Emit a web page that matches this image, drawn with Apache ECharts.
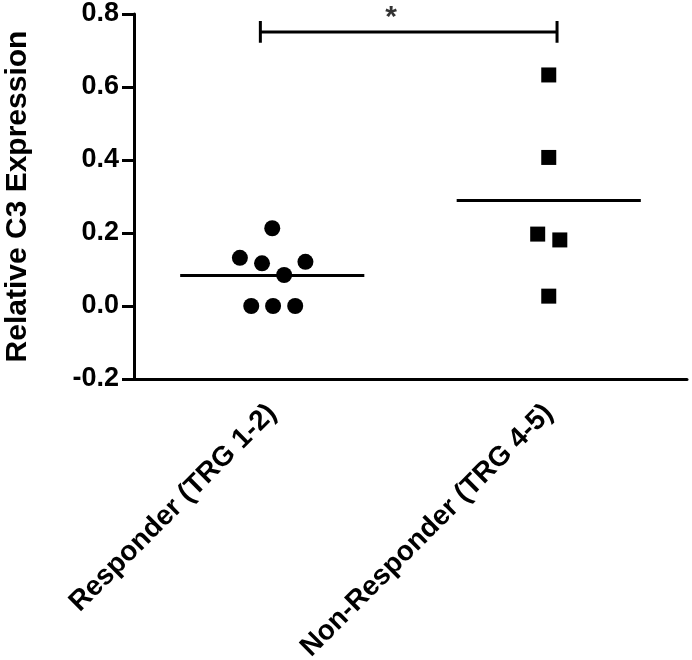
<!DOCTYPE html>
<html>
<head>
<meta charset="utf-8">
<script src="https://cdn.jsdelivr.net/npm/echarts@6/dist/echarts.min.js"></script>
<style>html,body{margin:0;padding:0;background:#fff;}#c{width:692px;height:660px;}</style>
</head>
<body>
<div id="c"></div>
<script>
var categories = ['Responder (TRG 1-2)', 'Non-Responder (TRG 4-5)'];
var yTicks = [-0.2, 0.0, 0.2, 0.4, 0.6, 0.8];
// Responder values and horizontal jitter (category units)
var responderValues = [0.213, 0.132, 0.117, 0.121, 0.085, 0.0, 0.0, 0.0];
var responderJitter = [0.0, -0.117, -0.037, 0.12, 0.043, -0.076, 0.003, 0.083];
// Non-responder values and jitter
var nonResponderValues = [0.633, 0.407, 0.197, 0.181, 0.027];
var nonResponderJitter = [0.0, 0.0, -0.04, 0.04, 0.0];
var meanHalfWidth = 0.333;
var bracketX = [-0.043, 1.03];
var bracketY = 0.751;
var bracketTick = 0.03;
var starPos = [0.43, 0.79];
var sigLabel = '*';

function mean(a){ return a.reduce(function(s,v){return s+v;},0)/a.length; }
function pts(cat, vals, jit){ return vals.map(function(v,i){ return [cat + jit[i], v]; }); }
var mR = mean(responderValues), mN = mean(nonResponderValues);

var chart = echarts.init(document.getElementById('c'));
var fontFam = '"Liberation Sans", Arial, sans-serif';
var lineStyleBlack = {color:'#000', width:3};
chart.setOption({
  animation:false,
  grid:{left:134, right:5, top:14, bottom:281, containLabel:false, outerBoundsMode:'none'},
  xAxis:[{
    type:'category', data:categories, boundaryGap:true,
    axisLine:{onZero:false, lineStyle:{color:'#000', width:3}},
    axisTick:{alignWithLabel:true, length:12, lineStyle:{color:'#000', width:3}},
    axisLabel:{rotate:45, color:'#000', fontFamily:fontFam, fontWeight:'bold', fontSize:28, margin:30},
    splitLine:{show:false}
  },{
    type:'value', min:-0.5, max:1.5, show:false
  }],
  yAxis:{
    type:'value', min:-0.2, max:0.8, interval:0.2,
    name:'Relative C3 Expression', nameLocation:'middle', nameGap:101,
    nameTextStyle:{color:'#000', fontFamily:fontFam, fontWeight:'bold', fontSize:30},
    axisLine:{show:true, onZero:false, lineStyle:{color:'#000', width:3}},
    axisTick:{show:true, length:12, lineStyle:{color:'#000', width:3}},
    axisLabel:{color:'#000', fontFamily:fontFam, fontWeight:'bold', fontSize:27, margin:15,
      formatter:function(v){ return v.toFixed(1); }},
    splitLine:{show:false}
  },
  series:[
    {type:'scatter', xAxisIndex:1, symbol:'circle', symbolSize:16, itemStyle:{color:'#000', opacity:1},
      data:pts(0, responderValues, responderJitter)},
    {type:'scatter', xAxisIndex:1, symbol:'rect', symbolSize:15, itemStyle:{color:'#000', opacity:1},
      data:pts(1, nonResponderValues, nonResponderJitter)},
    {type:'line', xAxisIndex:1, symbol:'none', lineStyle:lineStyleBlack,
      data:[[0-meanHalfWidth, mR],[0+meanHalfWidth, mR]]},
    {type:'line', xAxisIndex:1, symbol:'none', lineStyle:lineStyleBlack,
      data:[[1-meanHalfWidth, mN],[1+meanHalfWidth, mN]]},
    {type:'line', xAxisIndex:1, symbol:'none', lineStyle:lineStyleBlack,
      data:[[bracketX[0], bracketY],[bracketX[1], bracketY]]},
    {type:'line', xAxisIndex:1, symbol:'none', lineStyle:lineStyleBlack,
      data:[[bracketX[0], bracketY-bracketTick],[bracketX[0], bracketY+bracketTick]]},
    {type:'line', xAxisIndex:1, symbol:'none', lineStyle:lineStyleBlack,
      data:[[bracketX[1], bracketY-bracketTick],[bracketX[1], bracketY+bracketTick]]},
    {type:'scatter', xAxisIndex:1, symbolSize:0, silent:true,
      label:{show:true, formatter:sigLabel, position:'inside', color:'#000', fontFamily:fontFam, fontWeight:'bold', fontSize:30},
      data:[starPos]}
  ]
});
</script>
</body>
</html>
